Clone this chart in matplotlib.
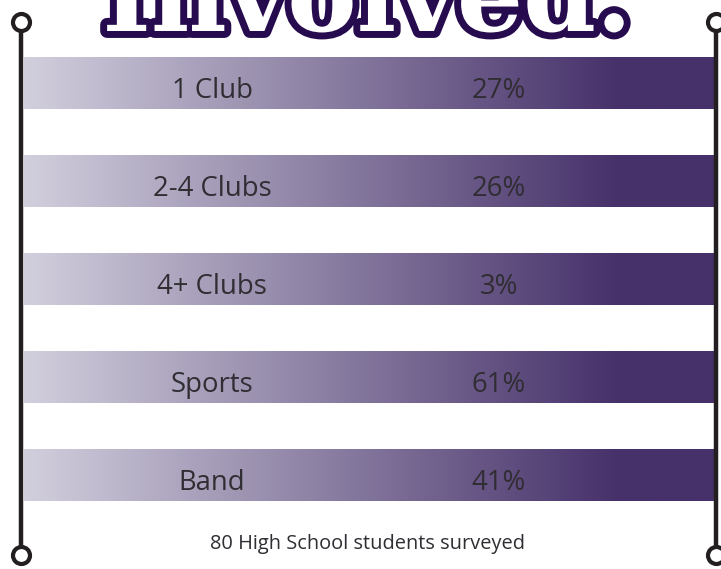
import matplotlib
matplotlib.use("Agg")
import matplotlib.pyplot as plt
import matplotlib.patheffects as pe
from matplotlib.colors import LinearSegmentedColormap
import numpy as np

# survey data
categories = ["1 Club", "2-4 Clubs", "4+ Clubs", "Sports", "Band"]
percents = [27, 26, 3, 61, 41]
footnote = "80 High School students surveyed"
title = "Involved."

W, H = 721, 569
fig = plt.figure(figsize=(W / 100, H / 100), dpi=100)
ax = fig.add_axes([0, 0, 1, 1])
ax.set_xlim(0, W)
ax.set_ylim(H, 0)
ax.axis("off")

# light lavender -> dark purple, flat after ~x=620
cmap = LinearSegmentedColormap.from_list(
    "purp", [(0.0, "#d2cfdd"), (0.86, "#46316a"), (1.0, "#46316a")])
grad = np.linspace(0, 1, 512).reshape(1, -1)

x0, x1 = 24, 716
band_h = 52
for i, (cat, pct) in enumerate(zip(categories, percents)):
    yc = 83 + i * 98
    ax.imshow(grad, cmap=cmap, aspect="auto", interpolation="bilinear",
              extent=[x0, x1, yc + band_h / 2, yc - band_h / 2], zorder=1)
    ax.text(212, yc + 8, cat, ha="center", va="center", fontsize=19.8,
            family="Open Sans", color="#302d33", zorder=3)
    ax.text(499, yc + 8, "{}%".format(pct), ha="center", va="center",
            fontsize=19.8, family="Open Sans", color="#302d33", zorder=3)

ax.set_xlim(0, W)
ax.set_ylim(H, 0)

# side rails with round ends
for x in (21, 716):
    ax.plot([x, x], [30, 547], color="#231f20", lw=3.2, zorder=4,
            solid_capstyle="butt")
    for y in (22, 555):
        ax.scatter([x], [y], s=150, facecolor="white", edgecolor="#231f20",
                   linewidth=3.0, zorder=5)

ax.text(368, 544, footnote, ha="center", va="center", fontsize=14.4,
        family="Open Sans", color="#302d33")

t = ax.text(367, 31, title, ha="center", va="baseline", fontsize=75,
            family="DejaVu Serif", weight="bold", color="white", zorder=6)
t.set_path_effects([pe.Stroke(linewidth=10, foreground="#270b4f"), pe.Normal()])

fig.savefig("out.png", dpi=100)
